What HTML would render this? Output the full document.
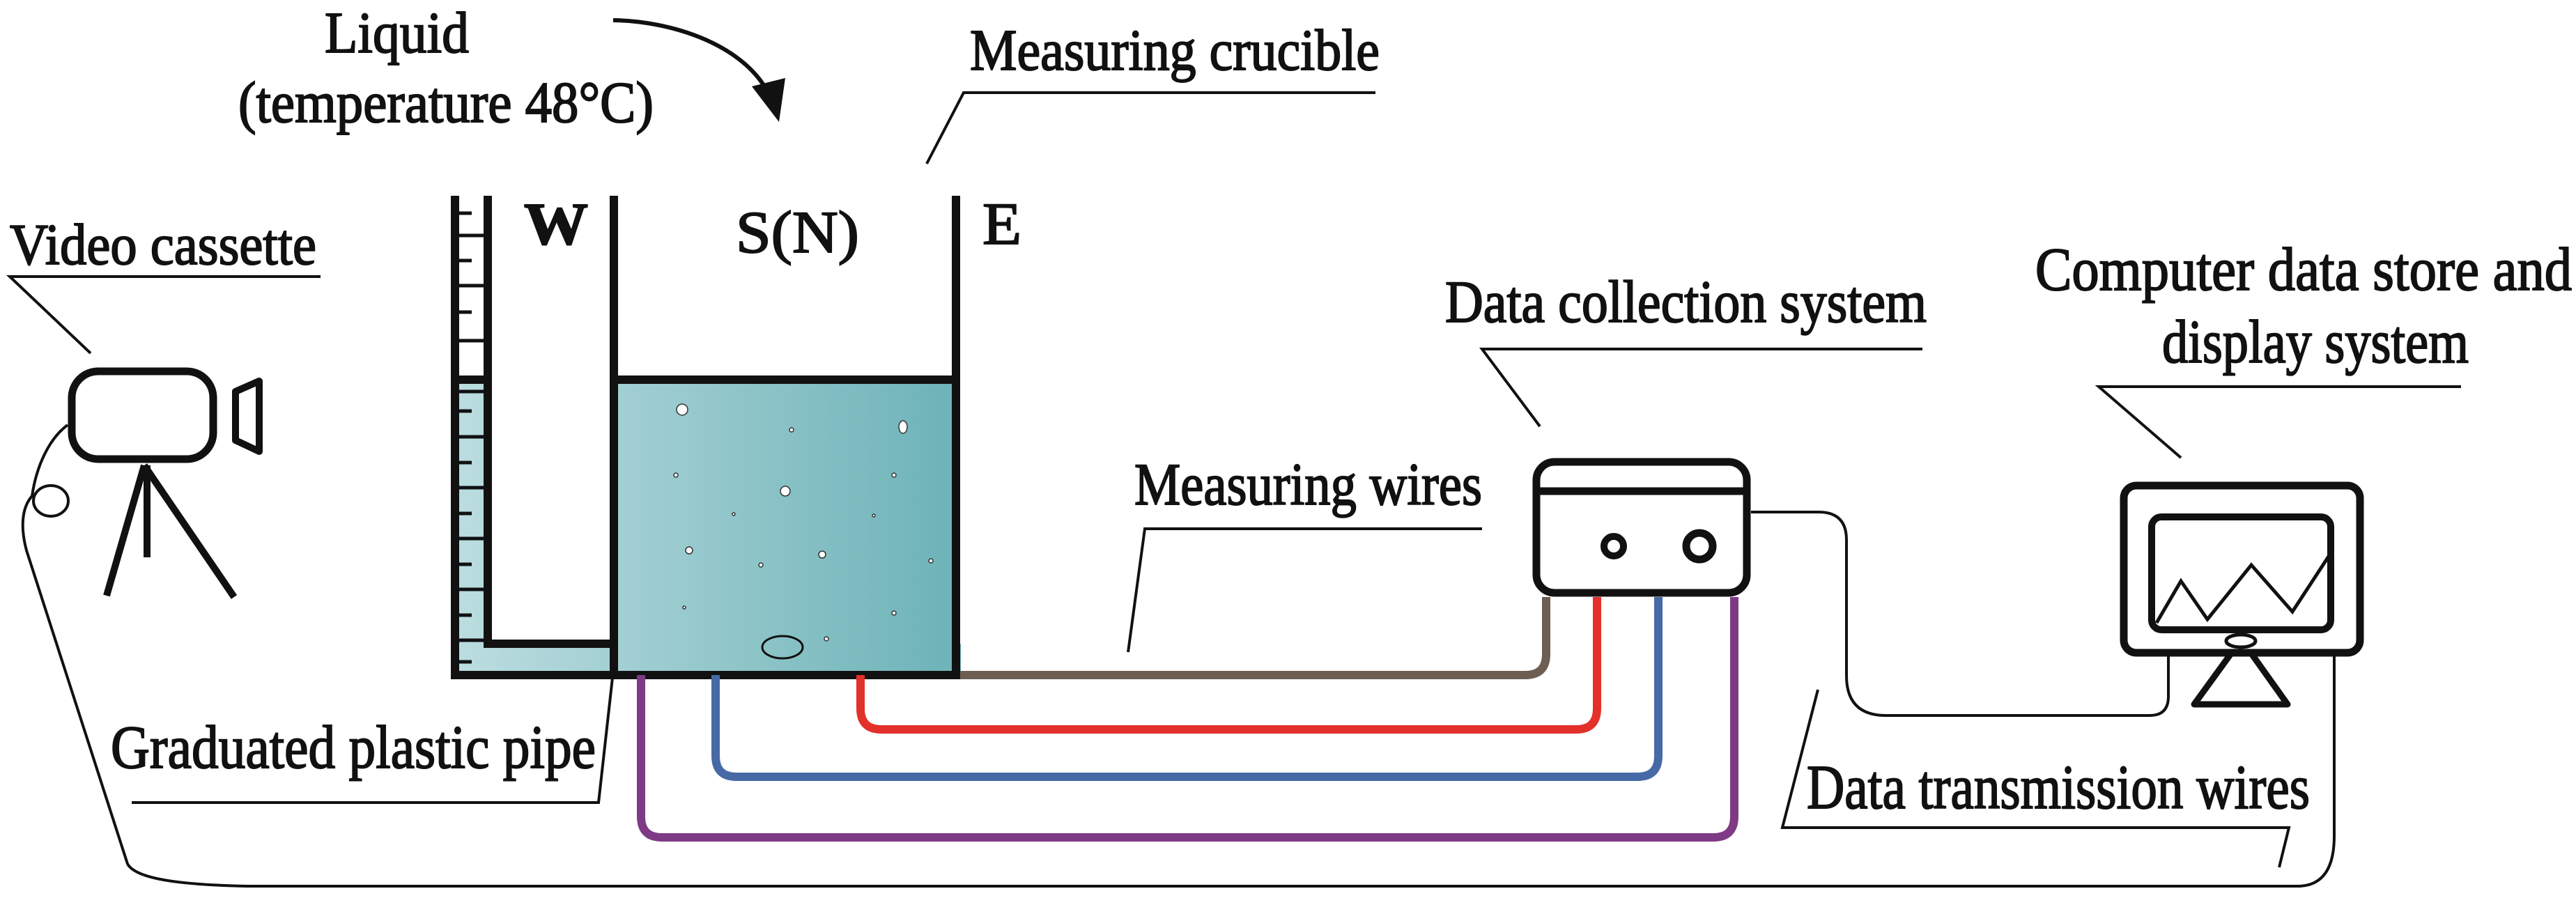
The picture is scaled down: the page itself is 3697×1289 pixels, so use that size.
<!DOCTYPE html>
<html><head><meta charset="utf-8"><style>
html,body{margin:0;padding:0;background:#fff;}
svg{display:block;}
.t text{font-family:"Liberation Serif","DejaVu Serif","Noto Serif CJK SC",serif;fill:#111;stroke:#111;stroke-width:2px;}
</style></head><body>
<svg width="3697" height="1289" viewBox="0 0 3697 1289" xmlns="http://www.w3.org/2000/svg">
<defs>
<linearGradient id="liq" x1="653" y1="0" x2="1372" y2="0" gradientUnits="userSpaceOnUse">
<stop offset="0" stop-color="#bcdde0"/><stop offset="1" stop-color="#6db3b8"/>
</linearGradient>
</defs>

<g class="t" font-family="Liberation Serif, DejaVu Serif, serif">
<text x="466" y="75" font-size="84" textLength="207" lengthAdjust="spacingAndGlyphs">Liquid</text>
<text x="342" y="175" font-size="84" textLength="596" lengthAdjust="spacingAndGlyphs">(temperature 48°C)</text>
<text x="1392" y="100" font-size="84" textLength="588" lengthAdjust="spacingAndGlyphs">Measuring crucible</text>
<text x="14" y="379" font-size="84" textLength="440" lengthAdjust="spacingAndGlyphs">Video cassette</text>
<text x="752" y="350" font-size="86" font-weight="bold" textLength="92" lengthAdjust="spacingAndGlyphs">W</text>
<text x="1056" y="362" font-size="86" textLength="177" lengthAdjust="spacingAndGlyphs">S(N)</text>
<text x="1410" y="350" font-size="86" textLength="56" lengthAdjust="spacingAndGlyphs">E</text>
<text x="159" y="1102" font-size="88" textLength="696" lengthAdjust="spacingAndGlyphs">Graduated plastic pipe</text>
<text x="1628" y="724" font-size="86" textLength="499" lengthAdjust="spacingAndGlyphs">Measuring wires</text>
<text x="2074" y="462" font-size="86" textLength="691" lengthAdjust="spacingAndGlyphs">Data collection system</text>
<text x="2921" y="416" font-size="88" textLength="770" lengthAdjust="spacingAndGlyphs">Computer data store and</text>
<text x="3103" y="520" font-size="88" textLength="440" lengthAdjust="spacingAndGlyphs">display system</text>
<text x="2593" y="1160" font-size="90" textLength="722" lengthAdjust="spacingAndGlyphs">Data transmission wires</text>
</g>

<g fill="none" stroke="#111" stroke-width="4">
<polyline points="1974,133 1383,133 1330,235"/>
<polyline points="460,397 14,397 130,507"/>
<polyline points="189,1152 859,1152 879,973"/>
<polyline points="2127,759 1643,759 1619,936"/>
<polyline points="2759,501 2127,501 2210,612"/>
<polyline points="3532,555 3012,555 3130,657"/>
<polyline points="2609,990 2558,1188 3285,1188 3271,1245"/>
</g>

<path d="M880,29 C960,30 1070,62 1106,140" fill="none" stroke="#111" stroke-width="6"/>
<polygon points="1079,124 1127,112 1118,175" fill="#111"/>

<rect x="653" y="545" width="47" height="424" fill="url(#liq)"/>
<rect x="653" y="924" width="726" height="45" fill="url(#liq)"/>
<rect x="879" y="545" width="493" height="424" fill="url(#liq)"/>

<g stroke="#111" stroke-width="5">
<line x1="653" y1="306" x2="677" y2="306"/>
<line x1="653" y1="338" x2="700" y2="338"/>
<line x1="653" y1="374" x2="677" y2="374"/>
<line x1="653" y1="410" x2="700" y2="410"/>
<line x1="653" y1="448" x2="677" y2="448"/>
<line x1="653" y1="489" x2="700" y2="489"/>
<line x1="653" y1="562" x2="700" y2="562"/>
<line x1="653" y1="590" x2="677" y2="590"/>
<line x1="653" y1="627" x2="700" y2="627"/>
<line x1="653" y1="664" x2="677" y2="664"/>
<line x1="653" y1="700" x2="700" y2="700"/>
<line x1="653" y1="737" x2="677" y2="737"/>
<line x1="653" y1="773" x2="700" y2="773"/>
<line x1="653" y1="810" x2="677" y2="810"/>
<line x1="653" y1="846" x2="700" y2="846"/>
<line x1="653" y1="883" x2="677" y2="883"/>
<line x1="653" y1="919" x2="700" y2="919"/>
<line x1="653" y1="950" x2="677" y2="950"/>
</g>

<g fill="none" stroke="#111" stroke-width="12" stroke-linecap="square">
<line x1="653" y1="287" x2="653" y2="969"/>
<polyline points="700,287 700,924 881,924"/>
<line x1="881" y1="287" x2="881" y2="969"/>
<line x1="653" y1="545" x2="700" y2="545"/>
<line x1="881" y1="545" x2="1372" y2="545"/>
<line x1="1372" y1="287" x2="1372" y2="969"/>
<line x1="653" y1="969" x2="1372" y2="969"/>
</g>

<g fill="#fff" stroke="#333" stroke-width="1.5">
<circle cx="979" cy="588" r="8"/><circle cx="1136" cy="617" r="3"/>
<ellipse cx="1296" cy="613" rx="6" ry="9"/><circle cx="970" cy="682" r="3"/>
<circle cx="1283" cy="682" r="3"/><circle cx="1127" cy="705" r="7"/>
<circle cx="1053" cy="738" r="2"/><circle cx="1254" cy="740" r="2"/>
<circle cx="989" cy="790" r="5"/><circle cx="1180" cy="796" r="5"/>
<circle cx="1092" cy="811" r="3"/><circle cx="1336" cy="805" r="3"/>
<circle cx="982" cy="872" r="2"/><circle cx="1283" cy="880" r="3"/>
<circle cx="1186" cy="917" r="3"/>
</g>
<ellipse cx="1123" cy="929" rx="29" ry="16" fill="none" stroke="#111" stroke-width="3"/>

<g fill="none" stroke-width="12">
<path d="M1378,969 H2189 Q2219,969 2219,939 V857" stroke="#6e5e52"/>
<path d="M1235,969 V1017 Q1235,1047 1265,1047 H2262 Q2292,1047 2292,1017 V857" stroke="#e3302a"/>
<path d="M1027,969 V1085 Q1027,1115 1057,1115 H2350 Q2380,1115 2380,1085 V857" stroke="#4769a6"/>
<path d="M920,969 V1172 Q920,1202 950,1202 H2459 Q2489,1202 2489,1172 V857" stroke="#7f3a86"/>
</g>

<rect x="2205" y="663" width="302" height="188" rx="26" fill="#fff" stroke="#111" stroke-width="11"/>
<line x1="2205" y1="705" x2="2507" y2="705" stroke="#111" stroke-width="11"/>
<circle cx="2316" cy="784" r="14" fill="none" stroke="#111" stroke-width="10"/>
<circle cx="2439" cy="784" r="19" fill="none" stroke="#111" stroke-width="11"/>

<path d="M2513,735 H2610 Q2650,735 2650,775 V970 Q2650,1027 2707,1027 H3085 Q3112,1027 3112,1000 V942" fill="none" stroke="#111" stroke-width="4"/>

<path d="M97,610 C70,630 52,670 46,712 C30,730 30,760 38,790 L183,1240 C195,1262 260,1270 354,1272 H3300 Q3350,1270 3350,1200 V942" fill="none" stroke="#111" stroke-width="4"/>
<ellipse cx="73" cy="719" rx="25" ry="22" fill="none" stroke="#111" stroke-width="4"/>

<rect x="103" y="533" width="203" height="126" rx="38" fill="#fff" stroke="#111" stroke-width="11"/>
<polygon points="338,562 372,547 372,648 338,632" fill="none" stroke="#111" stroke-width="10" stroke-linejoin="round"/>
<g stroke="#111" stroke-width="10">
<line x1="207" y1="668" x2="153" y2="855"/>
<line x1="207" y1="668" x2="336" y2="857"/>
<line x1="211" y1="668" x2="211" y2="800"/>
</g>

<rect x="3048" y="697" width="339" height="240" rx="18" fill="#fff" stroke="#111" stroke-width="11"/>
<rect x="3088" y="742" width="257" height="162" rx="14" fill="#fff" stroke="#111" stroke-width="10"/>
<polyline points="3095,894 3130,834 3168,889 3231,811 3290,878 3343,797" fill="none" stroke="#111" stroke-width="5"/>
<ellipse cx="3216" cy="920" rx="21" ry="9" fill="#fff" stroke="#111" stroke-width="5"/>
<polygon points="3202,938 3231,938 3283,1011 3149,1011" fill="none" stroke="#111" stroke-width="9" stroke-linejoin="round"/>
</svg>
</body></html>
